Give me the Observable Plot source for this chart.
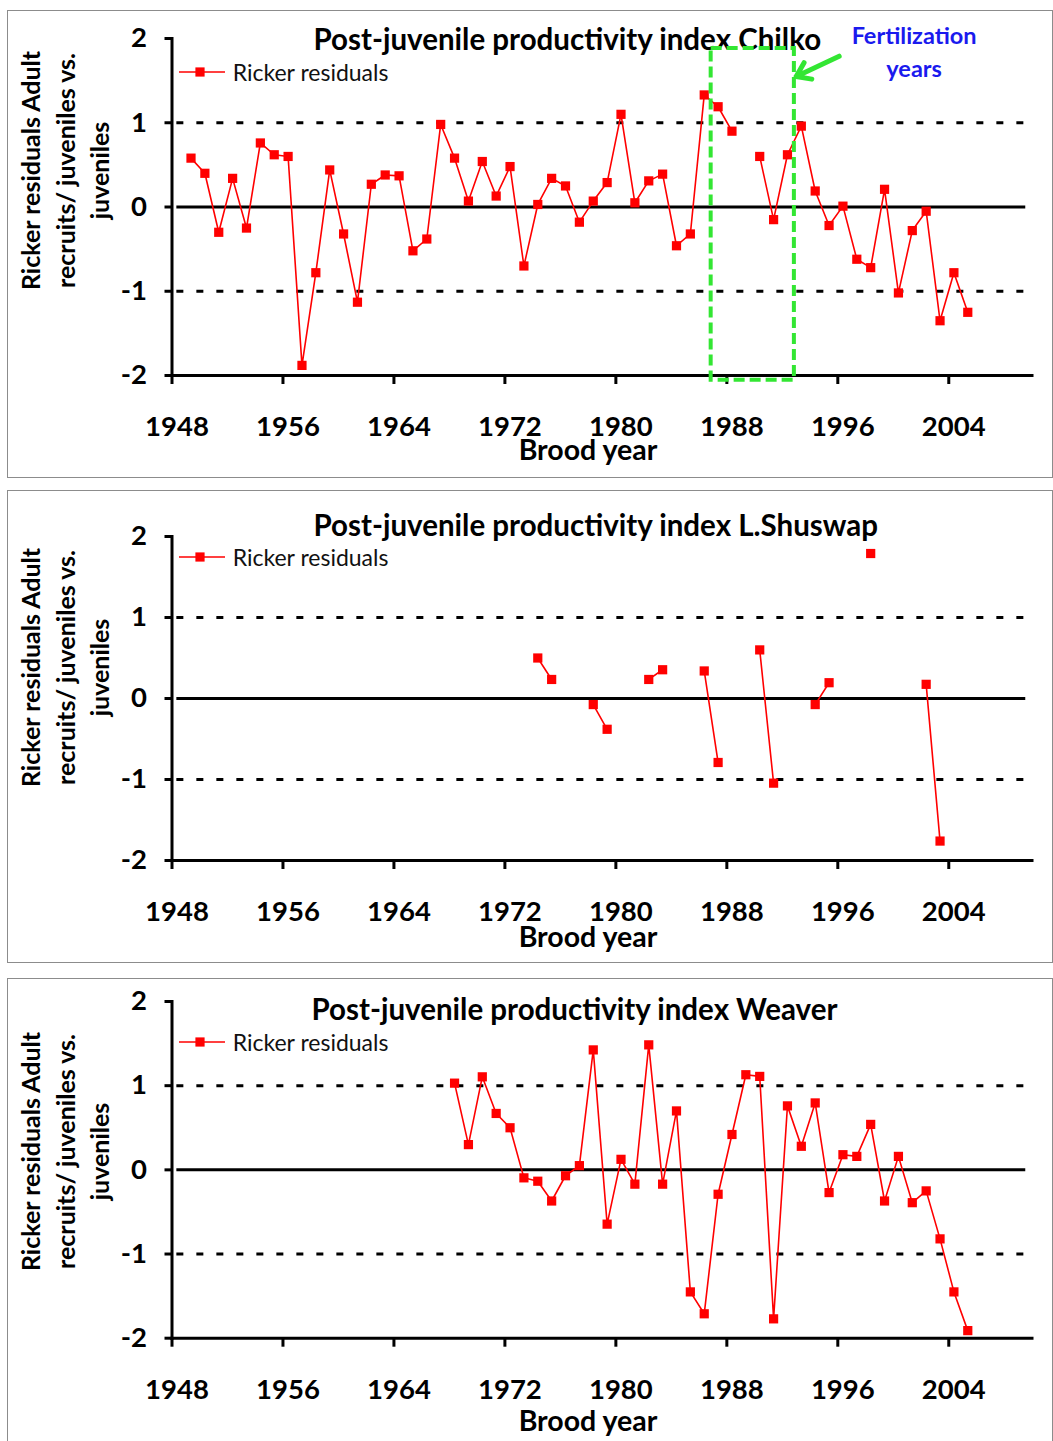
<!DOCTYPE html>
<html>
<head>
<meta charset="utf-8">
<script src="https://cdn.jsdelivr.net/npm/d3@7"></script>
<script src="https://cdn.jsdelivr.net/npm/@observablehq/plot@0.6"></script>
<style>
  html, body { margin: 0; padding: 0; background: #fff; }
  body { width: 1053px; height: 1441px; overflow: hidden; position: relative; font-family: Lato, "Open Sans", sans-serif; }
  .panel { position: absolute; left: 7px; width: 1044px; border: 1px solid #8c8c8c; background: #fff; }
  .panel svg { display: block; }
  .legend { position: absolute; overflow: visible; }
</style>
</head>
<body>
<script>
// ---------------- data ----------------
const xTickYears = [1948, 1956, 1964, 1972, 1980, 1988, 1996, 2004];
const yTickValues = [-2, -1, 0, 1, 2];
const dottedRefs = [-1, 1];
const solidRefs = [0];

// Chilko: brood years 1949-2005 (1989 missing)
const chilkoStart = 1949;
const chilkoValues = [
  0.58, 0.40, -0.30, 0.34, -0.25, 0.76, 0.62, 0.60, -1.88, -0.78,
  0.44, -0.32, -1.13, 0.27, 0.38, 0.37, -0.52, -0.38, 0.98, 0.58,
  0.07, 0.54, 0.13, 0.48, -0.70, 0.03, 0.34, 0.25, -0.18, 0.07,
  0.29, 1.10, 0.05, 0.31, 0.39, -0.46, -0.32, 1.33, 1.19, 0.90,
  null, 0.60, -0.15, 0.62, 0.96, 0.19, -0.22, 0.01, -0.62, -0.72,
  0.21, -1.02, -0.28, -0.05, -1.35, -0.78, -1.25
];

// L. Shuswap: brood years 1974-2003 (cycle years only)
const shuswapStart = 1974;
const shuswapValues = [
  0.50, 0.235, null, null, -0.075, -0.38, null, null, 0.235, 0.355,
  null, null, 0.34, -0.79, null, null, 0.60, -1.045, null, null,
  -0.075, 0.195, null, null, 1.79, null, null, null, 0.175, -1.76
];

// Weaver: brood years 1968-2005
const weaverStart = 1968;
const weaverValues = [
  1.03, 0.30, 1.105, 0.67, 0.50, -0.095, -0.135, -0.37, -0.07, 0.05,
  1.425, -0.645, 0.125, -0.17, 1.485, -0.17, 0.70, -1.45, -1.71, -0.29,
  0.42, 1.13, 1.11, -1.77, 0.76, 0.28, 0.795, -0.27, 0.18, 0.16,
  0.54, -0.37, 0.16, -0.39, -0.25, -0.82, -1.45, -1.91
];

const titles = [
  "Post-juvenile productivity index Chilko",
  "Post-juvenile productivity index L.Shuswap",
  "Post-juvenile productivity index Weaver"
];
const seriesName = "Ricker residuals";
const yLabel = "Ricker residuals Adult\nrecruits/ juveniles vs.\njuveniles";
const xLabel = "Brood year";

// Chilko fertilization annotation
const fertYears = [1987, 1992];
const fertBoxY = [-2.055, 1.88];
const fertArrow = [{x1: 1996.1, y1: 1.79, x2: 1993.0, y2: 1.55}];
const fertLabel = [
  {text: "Fertilization", x: 2001.5, y: 2.03},
  {text: "years", x: 2001.5, y: 1.63}
];

// ---------------- layout / style ----------------
const xDomain = [1948, 2010];
const refSpan = [1948.35, 2009.55];
const catOffset = 0.37; // markers sit inside each category slot
const RED = "#ff0000";
const GREEN = "#33e633";
const BLUE = "#1a1aee";
const FONT = "Lato, 'Open Sans', sans-serif";
const W = 1044, mL = 163.5, mR = 20.5;
const TICK_FS = 27.5, TITLE_FS = 29.5, XLAB_FS = 28.5, YLAB_FS = 25, LEG_FS = 23, FERT_FS = 23.5;

function series(start, values) {
  return values.map((v, i) => ({year: start + i, value: v}));
}

const panels = [
  {title: titles[0], data: series(chilkoStart, chilkoValues), top: 10, h: 466, mT: 27, mB: 102,
   titleX: 305, titleB: 38.3, yLabC: 159, legendY: 61.3, broodB: 448.5, fert: true},
  {title: titles[1], data: series(shuswapStart, shuswapValues), top: 490, h: 471, mT: 45, mB: 102,
   titleX: 305, titleB: 44, yLabC: 176, legendY: 66, broodB: 455, fert: false},
  {title: titles[2], data: series(weaverStart, weaverValues), top: 978, h: 470, mT: 22, mB: 111.3,
   titleX: 303, titleB: 40, yLabC: 172, legendY: 63, broodB: 451, fert: false}
];

function place(x, y, mT, fs) {
  // text offsets so that the baseline sits at (x, y) in svg pixels
  return {frameAnchor: "top-left", lineAnchor: "middle", dx: x - mL, dy: y - mT - 0.32 * fs};
}

for (const p of panels) {
  const div = document.createElement("div");
  div.className = "panel";
  div.style.top = p.top + "px";
  div.style.height = (p.h) + "px";
  document.body.appendChild(div);

  const x = d => d.year + catOffset;
  const marks = [
    Plot.ruleY(dottedRefs, {x1: refSpan[0], x2: refSpan[1], stroke: "#000", strokeWidth: 3, strokeDasharray: "7,13"}),
    Plot.ruleY(solidRefs, {x1: refSpan[0], x2: refSpan[1], stroke: "#000", strokeWidth: 3}),
    Plot.frame({anchor: "left", stroke: "#000", strokeWidth: 3}),
    Plot.frame({anchor: "bottom", stroke: "#000", strokeWidth: 3}),
    Plot.axisX({ticks: xTickYears, tickSize: 9, strokeWidth: 3, tickFormat: () => "", label: null}),
    Plot.axisX({ticks: xTickYears, tickSize: 0, tickPadding: 41, dx: 5, tickFormat: d => String(d), label: null,
      fontSize: TICK_FS, fontWeight: "bold", fill: "#000"}),
    Plot.axisY({ticks: yTickValues, tickSize: 7, tickPadding: 18, strokeWidth: 3, tickFormat: d => String(d), label: null,
      fontSize: TICK_FS, fontWeight: "bold", fill: "#000"}),
    Plot.line(p.data, {x, y: "value", stroke: RED, strokeWidth: 1.6}),
    Plot.dot(p.data.filter(d => d.value != null), {x, y: "value", symbol: "square", r: 5.2, fill: RED, stroke: "none"}),
    Plot.text([p.title], {...place(p.titleX, p.titleB, p.mT, TITLE_FS), textAnchor: "start", fontSize: TITLE_FS, fontWeight: "bold", fill: "#000"}),
    Plot.text([xLabel], {...place(579.5, p.broodB, p.mT, XLAB_FS), textAnchor: "middle", fontSize: XLAB_FS, fontWeight: "bold", fill: "#000"}),
    Plot.text([yLabel], {frameAnchor: "top-left", dx: 55 - mL, dy: p.yLabC - p.mT, rotate: -90, lineHeight: 1.38,
      textAnchor: "middle", lineAnchor: "middle", fontSize: YLAB_FS, fontWeight: "bold", fill: "#000"})
  ];
  if (p.fert) {
    marks.push(
      Plot.rect([{x1: fertYears[0] - 0.5 + catOffset, x2: fertYears[1] + 0.5 + catOffset, y1: fertBoxY[0], y2: fertBoxY[1]}],
        {x1: "x1", x2: "x2", y1: "y1", y2: "y2", fill: "none", stroke: GREEN, strokeWidth: 4, strokeDasharray: "11,5"}),
      Plot.arrow(fertArrow, {x1: "x1", y1: "y1", x2: "x2", y2: "y2", stroke: GREEN, strokeWidth: 5, headLength: 16, headAngle: 70}),
      Plot.text(fertLabel, {x: "x", y: "y", text: "text", fill: BLUE, fontSize: FERT_FS, fontWeight: "bold", textAnchor: "middle"})
    );
  }

  const chart = Plot.plot({
    width: W, height: p.h,
    marginLeft: mL, marginRight: mR, marginTop: p.mT, marginBottom: p.mB,
    x: {domain: xDomain, axis: null},
    y: {domain: [-2, 2], axis: null},
    style: {fontFamily: FONT, color: "#000", background: "transparent", overflow: "visible"},
    marks
  });
  div.appendChild(chart);

  // legend (series key) drawn inside the plot frame
  const ns = "http://www.w3.org/2000/svg";
  const lg = document.createElementNS(ns, "svg");
  lg.setAttribute("class", "legend");
  lg.setAttribute("width", 260);
  lg.setAttribute("height", 30);
  lg.style.left = (179 - 8) + "px";
  lg.style.top = (p.legendY - 15) + "px";
  lg.innerHTML =
    `<line x1="0" x2="46" y1="15" y2="15" stroke="${RED}" stroke-width="1.6"/>` +
    `<rect x="16.4" y="10.4" width="9.2" height="9.2" fill="${RED}"/>` +
    `<text x="53.7" y="23.5" font-size="${LEG_FS}" font-family="${FONT}" fill="#111">${seriesName}</text>`;
  div.appendChild(lg);
}
</script>
</body>
</html>
